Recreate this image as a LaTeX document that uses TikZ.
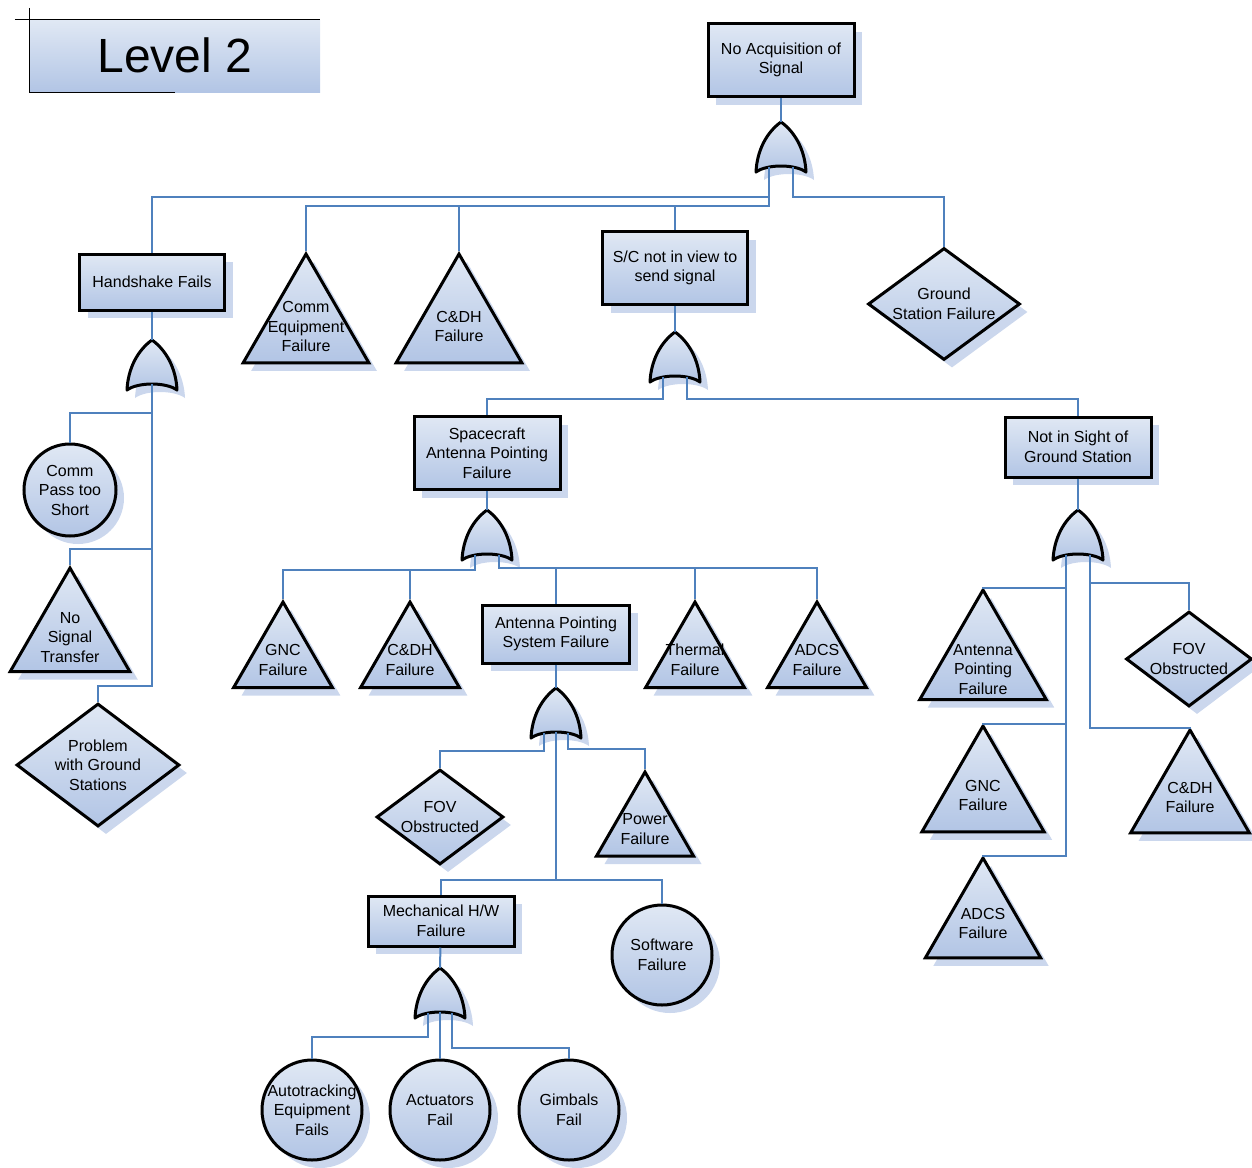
\documentclass[tikz,border=0pt]{standalone}
\usepackage{fontspec}
\setmainfont{Liberation Sans}
\usetikzlibrary{shapes.geometric, shadows}
\definecolor{wireblue}{RGB}{79, 129, 189}
\definecolor{filltop}{RGB}{224, 232, 244}
\definecolor{fillbot}{RGB}{178, 197, 229}
\definecolor{shadowblue}{RGB}{190, 205, 232}

\newcommand{\ctext}[2][6pt]{\makebox[0pt]{\smash{\raisebox{-#1}{\begin{tabular}{@{}c@{}}#2\end{tabular}}}}}

\tikzset{
  orgate/.pic={
    \draw[gatebody] (0,0) .. controls (14,10) and (24,28) .. (25,50)
      .. controls (14,42) and (-14,42) .. (-25,50)
      .. controls (-24,28) and (-14,10) .. (0,0) -- cycle;
    \coordinate (-top) at (0,0);
    \coordinate (-l) at (-12,45);
    \coordinate (-c) at (0,44);
    \coordinate (-r) at (12,45);
  }
}

\begin{document}
\begin{tikzpicture}[
        x=1pt, y=-1pt,
        evfill/.style={draw=black, line width=3pt, top color=filltop, bottom color=fillbot, drop shadow={shadow xshift=8pt, shadow yshift=-8pt, fill=shadowblue, opacity=0.8}, font=\fontsize{16}{19.5}\selectfont},
        event/.style={evfill, rectangle, align=center, inner sep=2pt},
        basic/.style={evfill, circle, inner sep=0pt},
        undev/.style={evfill, diamond, inner sep=0pt},
        xfer/.style={evfill, regular polygon, regular polygon sides=3, inner sep=0pt, anchor=corner 1},
        gatebody/.style={evfill, line join=round},
        wire/.style={draw=wireblue, line width=2pt},
        titlebox/.style={rectangle, top color=filltop, bottom color=fillbot, minimum width=290, minimum height=72, font=\fontsize{48}{58}\selectfont}
    ]
        \useasboundingbox (0,0) rectangle (1252,1167);

        % Title
        \node[titlebox] (ttl) at (175,56) {\raisebox{2pt}{Level 2}};
        \draw[line width=1pt] ([xshift=-15]ttl.north west) -- (ttl.north east);
        \draw[line width=1pt] ([yshift=12]ttl.north west) -- (ttl.south west) -- ([xshift=145]ttl.south west);

        % Top event
        \node[event, minimum width=146, minimum height=73] (nas) at (781,60) {No Acquisition of\\Signal};
        \pic (g1) at (781,122) {orgate};

        % Level 1
        \node[event, minimum width=145, minimum height=56] (hs) at (152,282) {Handshake Fails};
        \node[xfer, minimum size=145] (ce) at (306,251) {\ctext{Comm\\Equipment\\Failure}};
        \node[xfer, minimum size=145] (cd1) at (459,251) {\ctext{C\&DH\\Failure}};
        \node[event, minimum width=145, minimum height=73] (scv) at (675,268) {S/C not in view to\\send signal};
        \node[undev, minimum width=152, minimum height=112] (gsf) at (944,304) {\ctext{Ground\\Station Failure}};

        % Handshake branch
        \pic (g2) at (152,340) {orgate};
        \node[basic, minimum size=92] (cpts) at (70,490) {\ctext{Comm\\Pass too\\Short}};
        \node[xfer, minimum size=138] (nst) at (70,565) {\ctext{No\\Signal\\Transfer}};
        \node[undev, minimum width=163, minimum height=123] (pwgs) at (98,765) {\ctext{Problem\\with Ground\\Stations}};

        % S/C branch
        \pic (g3) at (675,332) {orgate};
        \node[event, minimum width=146, minimum height=73] (sapf) at (487,453) {Spacecraft\\Antenna Pointing\\Failure};
        \node[event, minimum width=146, minimum height=60] (nsgs) at (1078,447) {Not in Sight of\\Ground Station};

        % Pointing failure branch
        \pic (g4) at (487,510) {orgate};
        \node[xfer, minimum size=114] (gnc1) at (283,599) {\ctext[7pt]{GNC\\Failure}};
        \node[xfer, minimum size=114] (cd2) at (410,599) {\ctext[7pt]{C\&DH\\Failure}};
        \node[event, minimum width=147, minimum height=58] (apsf) at (556,634) {Antenna Pointing\\System Failure};
        \node[xfer, minimum size=114] (thf) at (695,599) {\ctext[7pt]{Thermal\\Failure}};
        \node[xfer, minimum size=114] (adcs1) at (817,599) {\ctext[7pt]{ADCS\\Failure}};

        % Pointing system branch
        \pic (g5) at (556,688) {orgate};
        \node[undev, minimum width=127, minimum height=95] (fov1) at (440,817) {\ctext{FOV\\Obstructed}};
        \node[xfer, minimum size=112] (pwr) at (645,769) {\ctext[7pt]{Power\\Failure}};
        \node[event, minimum width=146, minimum height=50] (mhw) at (441,921) {Mechanical H/W\\Failure};
        \node[basic, minimum size=100] (swf) at (662,955) {\ctext{Software\\Failure}};

        % Mechanical branch
        \pic (g6) at (440,968) {orgate};
        \node[basic, minimum size=100] (atef) at (312,1110) {\ctext{Autotracking\\Equipment\\Fails}};
        \node[basic, minimum size=100] (actf) at (440,1110) {\ctext{Actuators\\Fail}};
        \node[basic, minimum size=100] (gmbf) at (569,1110) {\ctext{Gimbals\\Fail}};

        % Line of sight branch
        \pic (g7) at (1078,510) {orgate};
        \node[xfer, minimum size=146] (apf) at (983,587) {\ctext[12pt]{Antenna\\Pointing\\Failure}};
        \node[xfer, minimum size=141] (gnc2) at (983,723) {\ctext[5pt]{GNC\\Failure}};
        \node[xfer, minimum size=133] (adcs2) at (983,855) {\ctext[5pt]{ADCS\\Failure}};
        \node[undev, minimum width=126, minimum height=95] (fov2) at (1189,659) {\ctext{FOV\\Obstructed}};
        \node[xfer, minimum size=137] (cd3) at (1190,727) {\ctext[5pt]{C\&DH\\Failure}};

        % Connections
        \draw[wire] (nas) -- (g1-top);
        \draw[wire] (g1-l) -- ++(0,30) -| (hs.north);
        \draw[wire] (g1-l) -- ++(0,39) -| (ce.corner 1);
        \draw[wire] (g1-l) -- ++(0,39) -| (cd1.corner 1);
        \draw[wire] (g1-l) -- ++(0,39) -| (scv.north);
        \draw[wire] (g1-r) -- ++(0,30) -| (gsf.north);

        \draw[wire] (hs) -- (g2-top);
        \draw[wire] (g2-c) -- ++(0,29) -| (cpts.north);
        \draw[wire] (g2-c) -- ++(0,165) -| (nst.corner 1);
        \draw[wire] (g2-c) -- ++(0,302) -| (pwgs.north);

        \draw[wire] (scv) -- (g3-top);
        \draw[wire] (g3-l) -- ++(0,22) -| (sapf.north);
        \draw[wire] (g3-r) -- ++(0,22) -| (nsgs.north);

        \draw[wire] (sapf) -- (g4-top);
        \draw[wire] (g4-l) -- ++(0,15) -| (gnc1.corner 1);
        \draw[wire] (g4-l) -- ++(0,15) -| (cd2.corner 1);
        \draw[wire] (g4-r) -- ++(0,13) -| (apsf.north);
        \draw[wire] (g4-r) -- ++(0,13) -| (thf.corner 1);
        \draw[wire] (g4-r) -- ++(0,13) -| (adcs1.corner 1);

        \draw[wire] (apsf) -- (g5-top);
        \draw[wire] (g5-l) -- ++(0,18) -| (fov1.north);
        \draw[wire] (g5-r) -- ++(0,16) -| (pwr.corner 1);
        \draw[wire] (g5-c) -- ++(0,148) -| (mhw.north);
        \draw[wire] (g5-c) -- ++(0,148) -| (swf.north);

        \draw[wire] (mhw) -- (g6-top);
        \draw[wire] (g6-l) -- ++(0,24) -| (atef.north);
        \draw[wire] (g6-c) -- (actf.north);
        \draw[wire] (g6-r) -- ++(0,35) -| (gmbf.north);

        \draw[wire] (nsgs) -- (g7-top);
        \draw[wire] (g7-l) -- ++(0,33) -| (apf.corner 1);
        \draw[wire] (g7-l) -- ++(0,169) -| (gnc2.corner 1);
        \draw[wire] (g7-l) -- ++(0,301) -| (adcs2.corner 1);
        \draw[wire] (g7-r) -- ++(0,28) -| (fov2.north);
        \draw[wire] (g7-r) -- ++(0,173) -| (cd3.corner 1);
    \end{tikzpicture}
\end{document}
